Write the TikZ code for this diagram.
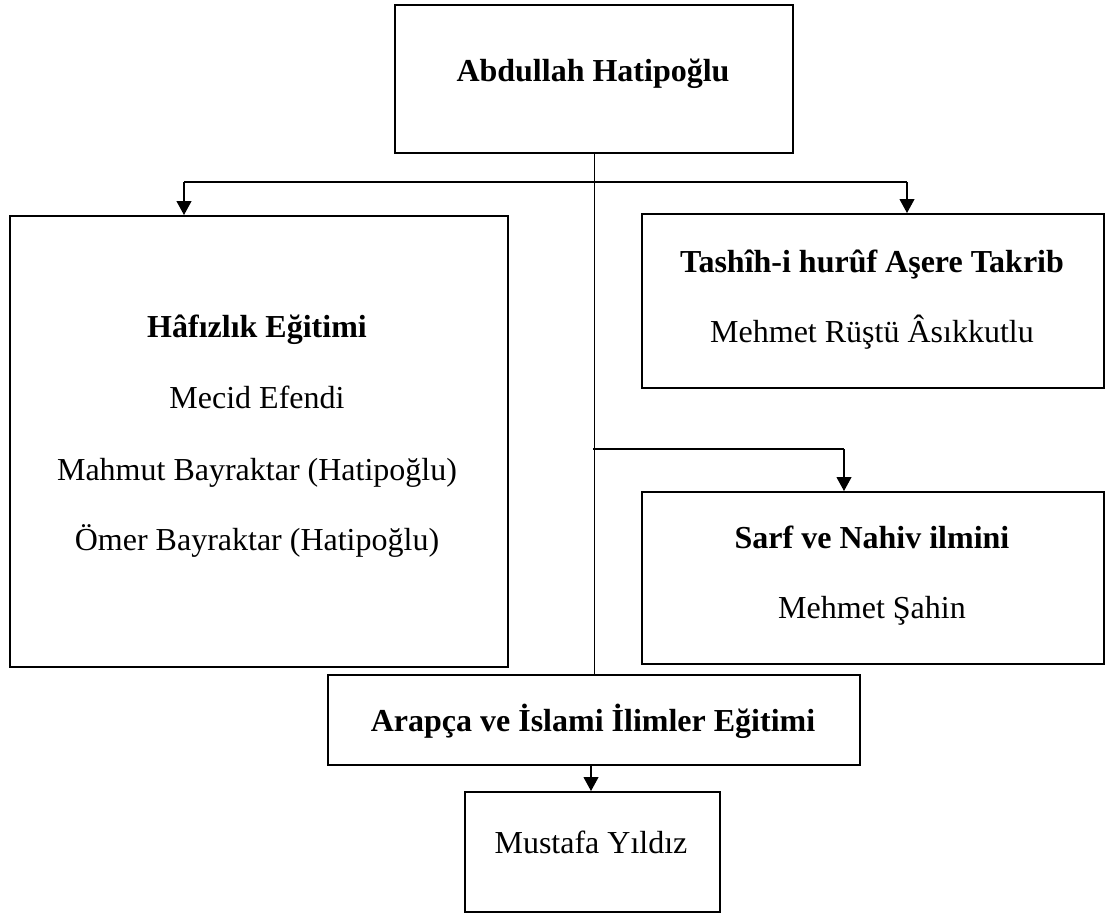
\documentclass[tikz,border=0pt]{standalone}
\usepackage{fontspec}
\setmainfont{Liberation Serif}
\usetikzlibrary{arrows.meta}
\begin{document}
\begin{tikzpicture}[x=1pt,y=-1pt,
  box/.style={draw, line width=2.4pt, inner sep=0pt, anchor=north west},
  conn/.style={line width=1.1pt},
  arr/.style={conn, -{Triangle[width=15pt,length=14pt]}},
  bt/.style={font=\fontsize{32}{38}\selectfont\bfseries, anchor=base, inner sep=0pt},
  rt/.style={font=\fontsize{32}{38}\selectfont, anchor=base, inner sep=0pt}]
\useasboundingbox (0,0) rectangle (1106,915);
% boxes
\node[box, minimum width=398pt, minimum height=148pt] (top) at (394,4) {};
\node[box, minimum width=498pt, minimum height=451pt] (hafiz) at (9,215) {};
\node[box, minimum width=462pt, minimum height=174pt] (tash) at (641,213) {};
\node[box, minimum width=462pt, minimum height=172pt] (sarf) at (641,491) {};
\node[box, minimum width=532pt, minimum height=90pt] (arap) at (327,674) {};
\node[box, minimum width=255pt, minimum height=120pt] (must) at (464,791) {};
% texts
\node[bt] (topT) at (593,82) {Abdullah Hatipoğlu};
\node[bt] (hafT1) at (257,337) {Hâfızlık Eğitimi};
\node[rt] (hafT2) at (257,408) {Mecid Efendi};
\node[rt] (hafT3) at (257,480) {Mahmut Bayraktar (Hatipoğlu)};
\node[rt] (hafT4) at (257,550) {Ömer Bayraktar (Hatipoğlu)};
\node[bt] (tashT1) at (872,272) {Tashîh-i hurûf Aşere Takrib};
\node[rt] (tashT2) at (872,342) {Mehmet Rüştü Âsıkkutlu};
\node[bt] (sarfT1) at (872,548) {Sarf ve Nahiv ilmini};
\node[rt] (sarfT2) at (872,618) {Mehmet Şahin};
\node[bt] (arapT) at (593,731) {Arapça ve İslami İlimler Eğitimi};
\node[rt] (mustT) at (591,853) {Mustafa Yıldız};
% connectors
\coordinate (la) at (184,182);
\coordinate (ra) at (907,182);
\coordinate (b2) at (593,449);
\coordinate (sa) at (844,449);
\draw[conn] (top.south) -- (arap.north);
\draw[conn] (la) -- (ra);
\draw[arr] (la) -- (la |- hafiz.north);
\draw[arr] (ra) -- (ra |- tash.north);
\draw[conn] (b2) -- (sa);
\draw[arr] (sa) -- (sa |- sarf.north);
\draw[arr] (arap.south -| mustT) -- (must.north -| mustT);
\end{tikzpicture}
\end{document}
